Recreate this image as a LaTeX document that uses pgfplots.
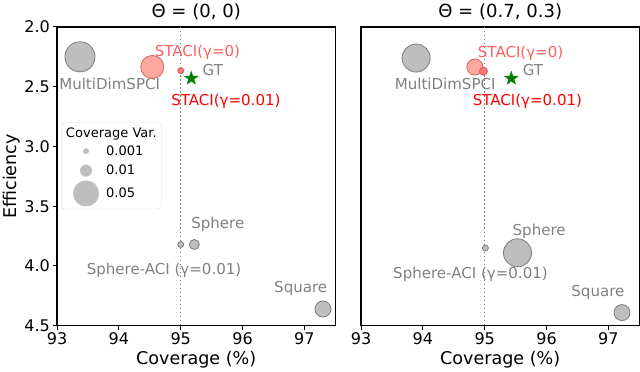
\documentclass[border=0pt]{standalone}
\usepackage{fontspec}
\setmainfont{DejaVu Sans}
\usepackage{pgfplots}
\pgfplotsset{compat=1.18}

\definecolor{ptgray}{RGB}{190,190,190}
\definecolor{edgegray}{RGB}{125,125,125}
\definecolor{txtgray}{RGB}{128,128,128}
\definecolor{salmonfill}{RGB}{255,168,160}
\definecolor{salmonedge}{RGB}{215,95,95}
\definecolor{redfill}{RGB}{245,120,115}
\definecolor{lightred}{RGB}{255,95,95}
\definecolor{gtgreen}{RGB}{0,128,0}

% filled five-pointed star
\pgfdeclareplotmark{fstar}{%
  \pgfpathmoveto{\pgfpointpolar{90}{\pgfplotmarksize}}%
  \pgfpathlineto{\pgfpointpolar{126}{0.4\pgfplotmarksize}}%
  \pgfpathlineto{\pgfpointpolar{162}{\pgfplotmarksize}}%
  \pgfpathlineto{\pgfpointpolar{198}{0.4\pgfplotmarksize}}%
  \pgfpathlineto{\pgfpointpolar{234}{\pgfplotmarksize}}%
  \pgfpathlineto{\pgfpointpolar{270}{0.4\pgfplotmarksize}}%
  \pgfpathlineto{\pgfpointpolar{306}{\pgfplotmarksize}}%
  \pgfpathlineto{\pgfpointpolar{342}{0.4\pgfplotmarksize}}%
  \pgfpathlineto{\pgfpointpolar{18}{\pgfplotmarksize}}%
  \pgfpathlineto{\pgfpointpolar{54}{0.4\pgfplotmarksize}}%
  \pgfpathclose\pgfusepathqfillstroke}

\tikzset{ann/.style={font=\fontsize{15}{17}\selectfont}}

\pgfplotsset{
  panel/.style={
    scale only axis, width=277.5pt, height=298pt,
    xmin=93, xmax=97.5, ymin=2, ymax=4.5, y dir=reverse,
    xtick={93,94,95,96,97}, ytick={2,2.5,3,3.5,4,4.5},
    yticklabel style={/pgf/number format/fixed, /pgf/number format/precision=1,
      /pgf/number format/fixed zerofill},
    /pgf/number format/assume math mode=true,
    tick label style={font=\fontsize{16}{18}\selectfont, inner sep=2.5pt},
    label style={font=\fontsize{17.5}{19}\selectfont},
    ylabel style={yshift=-2pt},
    title style={font=\fontsize{18}{20}\selectfont, yshift=-2pt},
    axis line style={line width=1.4pt},
    tick style={black, line width=1pt}, tick align=outside, major tick length=4.5pt,
    xtick pos=bottom, ytick pos=left,
    xlabel={Coverage (\%)},
  },
  dot/.style={only marks, mark=*, mark size=#1, mark options={fill=ptgray, draw=edgegray, line width=0.8pt}},
  sdot/.style={only marks, mark=*, mark size=#1, mark options={fill=salmonfill, draw=salmonedge, line width=0.8pt}},
  rdot/.style={only marks, mark=*, mark size=#1, mark options={fill=redfill, draw=salmonedge, line width=0.8pt}},
  gt/.style={only marks, mark=fstar, mark size=7pt, mark options={fill=gtgreen, draw=gtgreen}},
  vline/.style={txtgray, line width=1.4pt, dash pattern=on 1.4pt off 2.6pt},
  legdot/.style={legend image code/.code={%
      \path[draw=none, fill=none] (0pt,-9.75pt) rectangle (40pt,9.75pt);
      \fill[ptgray, draw=none] (22pt,0pt) circle (#1);}},
}

\begin{document}
\begin{tikzpicture}
\begin{axis}[panel, name=left,
  title={Θ = (0, 0)},
  ylabel={Efficiency},
  legend style={at={(0.015,0.68)}, anchor=north west, draw=black!15, rounded corners=3pt,
    font=\fontsize{13}{15}\selectfont, inner sep=2.5pt,
    nodes={inner sep=2pt}, column sep=0pt},
  legend cell align=left,
]
\addlegendimage{legend image code/.code={\path[draw=none, fill=none] (0pt,-8pt) rectangle (40pt,8pt);}}
\addlegendentry{\hspace{-40pt}Coverage Var.}
\addlegendimage{legdot=3pt}
\addlegendentry{0.001}
\addlegendimage{legdot=6pt}
\addlegendentry{0.01}
\addlegendimage{legdot=13pt}
\addlegendentry{0.05}
\addplot[vline, forget plot] coordinates {(95,2) (95,4.5)};
\addplot[dot=15pt, forget plot] coordinates {(93.37,2.25)};
\addplot[sdot=11.5pt, forget plot] coordinates {(94.54,2.335)};
\addplot[rdot=3pt, forget plot] coordinates {(95.0,2.365)};
\addplot[gt, forget plot] coordinates {(95.17,2.43)};
\addplot[dot=3pt, forget plot] coordinates {(95.0,3.82)};
\addplot[dot=5pt, forget plot] coordinates {(95.22,3.82)};
\addplot[dot=8pt, forget plot] coordinates {(97.3,4.36)};
\node[ann, text=txtgray] at (axis cs:93.85,2.48) {MultiDimSPCI};
\node[ann, text=lightred] at (axis cs:95.27,2.215) {STACI(γ=0)};
\node[ann, text=txtgray] at (axis cs:95.52,2.36) {GT};
\node[ann, text=red] at (axis cs:95.73,2.62) {STACI(γ=0.01)};
\node[ann, text=txtgray] at (axis cs:95.6,3.65) {Sphere};
\node[ann, text=txtgray] at (axis cs:94.73,4.04) {Sphere-ACI (γ=0.01)};
\node[ann, text=txtgray] at (axis cs:96.94,4.19) {Square};
\end{axis}
\begin{axis}[panel, at={(303.2pt,0pt)},
  title={Θ = (0.7, 0.3)},
  ytick=\empty,
]
\addplot[vline] coordinates {(95,2) (95,4.5)};
\addplot[dot=14pt] coordinates {(93.89,2.26)};
\addplot[sdot=8pt] coordinates {(94.84,2.335)};
\addplot[rdot=4pt] coordinates {(94.98,2.37)};
\addplot[gt] coordinates {(95.43,2.43)};
\addplot[dot=3pt] coordinates {(95.01,3.85)};
\addplot[dot=14pt] coordinates {(95.53,3.89)};
\addplot[dot=8pt] coordinates {(97.22,4.39)};
\node[ann, text=txtgray] at (axis cs:94.36,2.48) {MultiDimSPCI};
\node[ann, text=lightred] at (axis cs:95.58,2.22) {STACI(γ=0)};
\node[ann, text=txtgray] at (axis cs:95.78,2.36) {GT};
\node[ann, text=red] at (axis cs:95.69,2.62) {STACI(γ=0.01)};
\node[ann, text=txtgray] at (axis cs:95.88,3.71) {Sphere};
\node[ann, text=txtgray] at (axis cs:94.77,4.07) {Sphere-ACI (γ=0.01)};
\node[ann, text=txtgray] at (axis cs:96.83,4.22) {Square};
\end{axis}
\end{tikzpicture}
\end{document}
